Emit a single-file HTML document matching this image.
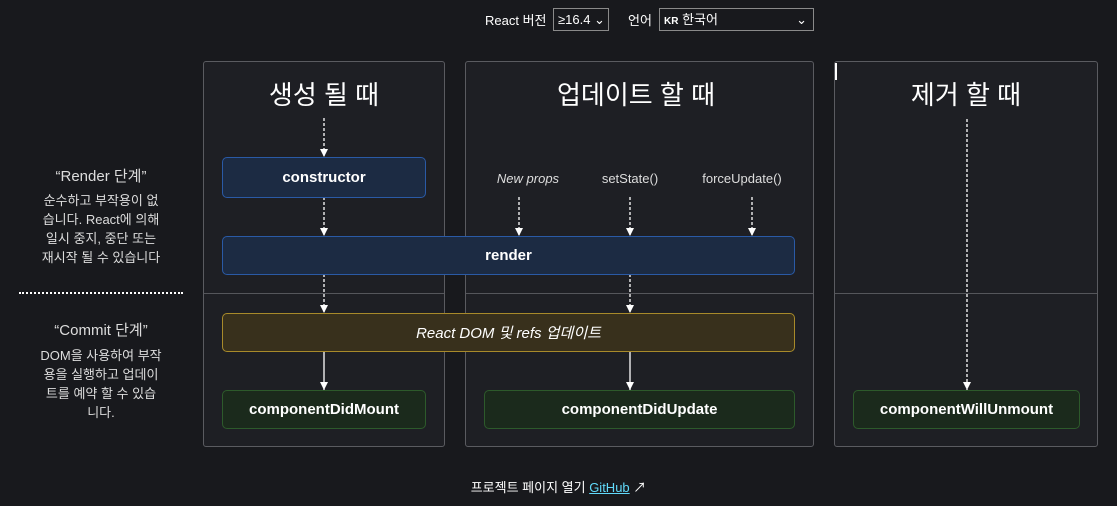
<!DOCTYPE html>
<html><head><meta charset="utf-8"><style>
body{margin:0;width:1117px;height:506px;background:#18191d;color:#fff;font-family:"Liberation Sans","Noto Sans CJK KR",sans-serif;position:relative;overflow:hidden}
.a{position:absolute}
.p{position:absolute;top:61px;height:386px;background:#1e1f24;border:1px solid #5a5b60;border-radius:3px;box-sizing:border-box}
.t{position:absolute;top:75px;font-size:26px;text-align:center}
.b{position:absolute;box-sizing:border-box;border-radius:5px;display:flex;align-items:center;justify-content:center;font-weight:bold;font-size:15px}
.bl{background:#1c2b43;border:1px solid #2a5aa6}
.gr{background:#1b2a1c;border:1px solid #2d5a2b}
.yl{background:#38301c;border:1px solid #a88a2a;font-weight:normal;font-style:italic}
.lt{position:absolute;width:180px;text-align:center;font-size:13px;line-height:19px;color:#ddd}
.sel{position:absolute;border:1px solid #8a8a8a;height:23px;box-sizing:border-box;font-size:13px;line-height:21px;padding-left:4px;background:#18191d}
.hl{position:absolute;top:293px;height:1px;background:#55565b}
</style></head><body>
<div class="a" style="left:485px;top:10px;font-size:13px">React 버전</div>
<div class="sel" style="left:553px;top:8px;width:56px">≥16.4 ⌄</div>
<div class="a" style="left:628px;top:10px;font-size:13px">언어</div>
<div class="sel" style="left:659px;top:8px;width:155px"><b style="font-size:10px">KR</b> 한국어<span style="position:absolute;right:6px">⌄</span></div>

<div class="p" style="left:203px;width:242px"></div>
<div class="p" style="left:465px;width:349px"></div>
<div class="p" style="left:834px;width:264px"></div>
<div class="hl" style="left:204px;width:240px"></div>
<div class="hl" style="left:466px;width:347px"></div>
<div class="hl" style="left:835px;width:262px"></div>
<div class="a" style="left:835px;top:63px;width:2px;height:17px;background:#fff"></div>

<div class="t" style="left:203px;width:242px">생성 될 때</div>
<div class="t" style="left:465px;width:342px">업데이트 할 때</div>
<div class="t" style="left:834px;width:264px">제거 할 때</div>

<div class="lt" style="left:11px;top:167px;font-size:15px">“Render 단계”</div>
<div class="lt" style="left:11px;top:191px">순수하고 부작용이 없<br>습니다. React에 의해<br>일시 중지, 중단 또는<br>재시작 될 수 있습니다</div>
<div class="a" style="left:19px;top:292px;width:164px;border-top:2px dotted #fff"></div>
<div class="lt" style="left:11px;top:321px;font-size:15px">“Commit 단계”</div>
<div class="lt" style="left:11px;top:346px">DOM을 사용하여 부작<br>용을 실행하고 업데이<br>트를 예약 할 수 있습<br>니다.</div>

<svg class="a" style="left:0;top:0" width="1117" height="506">
<defs>
<marker id="h" viewBox="0 0 10 10" refX="10" refY="5" markerWidth="8" markerHeight="8" orient="auto" markerUnits="userSpaceOnUse"><path d="M0,0 L10,5 L0,10z" fill="#fff"/></marker></defs>
<g stroke="#fff" stroke-width="1.3" marker-end="url(#h)">
<line x1="324" y1="118" x2="324" y2="157" stroke-dasharray="3,2"/>
<line x1="324" y1="197" x2="324" y2="236" stroke-dasharray="3,2"/>
<line x1="324" y1="274" x2="324" y2="313" stroke-dasharray="3,2"/>
<line x1="324" y1="351" x2="324" y2="390"/>
<line x1="519" y1="197" x2="519" y2="236" stroke-dasharray="3,2"/>
<line x1="630" y1="197" x2="630" y2="236" stroke-dasharray="3,2"/>
<line x1="752" y1="197" x2="752" y2="236" stroke-dasharray="3,2"/>
<line x1="630" y1="274" x2="630" y2="313" stroke-dasharray="3,2"/>
<line x1="630" y1="351" x2="630" y2="390"/>
<line x1="967" y1="119" x2="967" y2="390" stroke-dasharray="3,2"/>
</g></svg>

<div class="a" style="left:478px;top:171px;width:100px;text-align:center;font-size:13px;font-style:italic;color:#ddd">New props</div>
<div class="a" style="left:580px;top:171px;width:100px;text-align:center;font-size:13px;color:#ddd">setState()</div>
<div class="a" style="left:692px;top:171px;width:100px;text-align:center;font-size:13px;color:#ddd">forceUpdate()</div>

<div class="b bl" style="left:222px;top:157px;width:204px;height:41px">constructor</div>
<div class="b bl" style="left:222px;top:236px;width:573px;height:39px">render</div>
<div class="b yl" style="left:222px;top:313px;width:573px;height:39px">React DOM 및 refs 업데이트</div>
<div class="b gr" style="left:222px;top:390px;width:204px;height:39px">componentDidMount</div>
<div class="b gr" style="left:484px;top:390px;width:311px;height:39px">componentDidUpdate</div>
<div class="b gr" style="left:853px;top:390px;width:227px;height:39px">componentWillUnmount</div>

<div class="a" style="left:0;width:1117px;top:477px;text-align:center;font-size:13px">프로젝트 페이지 열기 <span style="color:#61dafb;text-decoration:underline">GitHub</span> ↗</div>
</body></html>
